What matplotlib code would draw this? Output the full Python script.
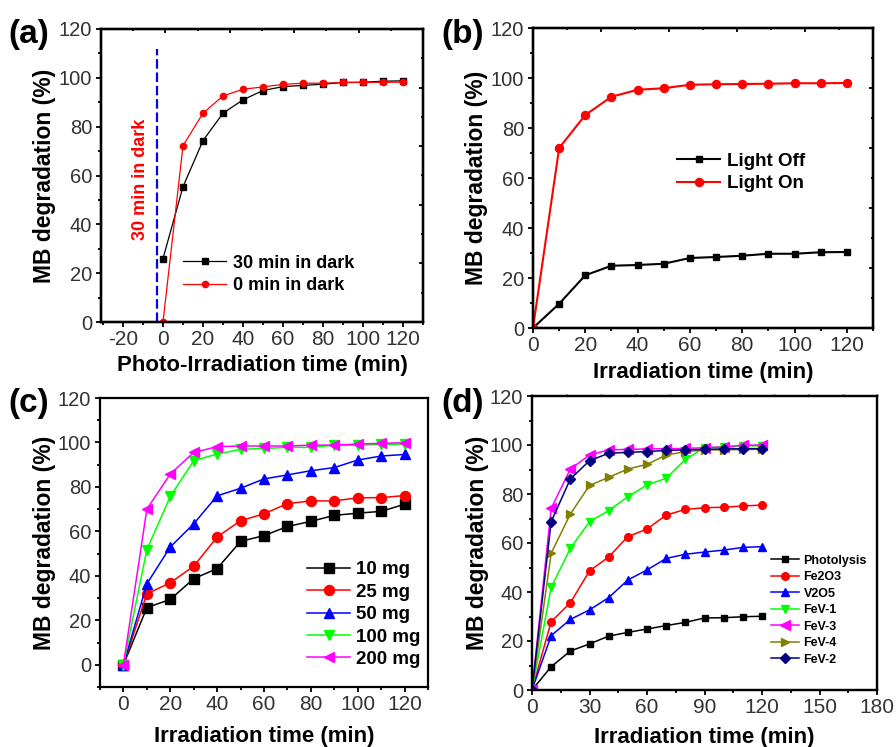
import matplotlib
matplotlib.use("Agg")
import matplotlib.pyplot as plt
from matplotlib.ticker import MultipleLocator

plt.rcParams['font.family'] = ['Liberation Sans', 'DejaVu Sans']
plt.rcParams['axes.unicode_minus'] = False

# irradiation times (min)
t = [0, 10, 20, 30, 40, 50, 60, 70, 80, 90, 100, 110, 120]

# (a) effect of dark adsorption step
dark_30 = [26.0, 55.4, 74.3, 85.5, 91.0, 94.8, 96.4, 96.9, 97.4, 98.1, 98.2, 98.6, 98.8]
dark_0 = [0, 72.2, 85.5, 92.6, 95.3, 96.3, 97.3, 97.8, 97.8, 98.1, 98.1, 98.2, 98.2]
dark_line_x = -3
dark_line_top = 112

# (b) light off / light on
light_off = [0, 9.7, 21.1, 24.9, 25.2, 25.7, 28.0, 28.4, 28.9, 29.7, 29.7, 30.3, 30.4]
light_on = [0, 72.0, 85.2, 92.5, 95.3, 95.9, 97.3, 97.5, 97.6, 97.7, 97.9, 97.9, 98.0]

# (c) catalyst dosage
dose_labels = ['10 mg', '25 mg', '50 mg', '100 mg', '200 mg']
dose_10 = [0, 25.7, 29.4, 38.7, 43.3, 55.5, 58.1, 62.2, 64.5, 67.2, 68.2, 69.0, 72.2]
dose_25 = [0, 31.9, 36.9, 44.3, 57.5, 64.8, 67.9, 72.5, 73.7, 73.7, 75.1, 75.2, 76.1]
dose_50 = [0, 36.4, 53.0, 63.4, 76.0, 79.4, 83.6, 85.4, 87.3, 88.7, 92.1, 93.9, 94.6]
dose_100 = [0, 51.8, 75.7, 91.8, 94.8, 96.9, 97.3, 97.8, 97.8, 98.8, 98.8, 99.1, 99.3]
dose_200 = [0, 70.0, 85.8, 95.5, 98.1, 98.4, 98.4, 98.4, 98.8, 98.8, 99.3, 99.6, 99.9]

# (d) different catalysts
cat_labels = ['Photolysis', 'Fe2O3', 'V2O5', 'FeV-1', 'FeV-3', 'FeV-4', 'FeV-2']
photolysis = [0, 9.5, 15.9, 18.8, 22.0, 23.5, 24.9, 26.3, 27.6, 29.4, 29.5, 29.9, 30.1]
fe2o3 = [0, 27.9, 35.6, 48.6, 54.3, 62.6, 65.7, 71.4, 73.7, 74.4, 74.6, 75.1, 75.5]
v2o5 = [0, 22.2, 28.8, 32.7, 37.7, 44.9, 49.0, 53.7, 55.4, 56.3, 57.1, 58.2, 58.5]
fev_1 = [0, 41.9, 57.8, 68.7, 73.2, 78.9, 83.7, 86.4, 94.1, 98.9, 99.2, 99.6, 99.7]
fev_3 = [0, 74.1, 90.2, 95.9, 98.0, 98.2, 98.4, 98.5, 98.6, 98.9, 99.2, 99.9, 100.0]
fev_4 = [0, 55.8, 71.8, 83.5, 86.8, 90.2, 92.1, 95.9, 97.3, 98.0, 98.0, 98.2, 98.2]
fev_2 = [0, 68.7, 86.1, 93.6, 96.6, 97.0, 97.3, 97.8, 98.0, 98.2, 98.4, 98.5, 98.5]

colors = ['black', '#FF0000', '#0000FF', '#00FF00', '#FF00FF', '#808000', '#000080']
markers = ['s', 'o', '^', 'v', '<', '>', 'D']

YLABEL = 'MB degradation (%)'
TICK_COLOR = '#333333'


def style(ax, xlim, ylim, xmaj, ymaj, xlab, xlab_y, ylab_x):
    ax.set_xlim(*xlim)
    ax.set_ylim(*ylim)
    ax.xaxis.set_major_locator(MultipleLocator(xmaj))
    ax.xaxis.set_minor_locator(MultipleLocator(xmaj / 2))
    ax.yaxis.set_major_locator(MultipleLocator(ymaj))
    ax.yaxis.set_minor_locator(MultipleLocator(ymaj / 2))
    ax.tick_params(which='both', direction='out', top=False, right=False,
                   width=1.3, color='black', labelcolor=TICK_COLOR)
    ax.tick_params(which='major', length=3.3)
    ax.tick_params(which='minor', length=2.2)
    ax.tick_params(axis='x', labelsize=15, pad=2.5)
    ax.tick_params(axis='y', labelsize=14.5, pad=3)
    for s in ax.spines.values():
        s.set_linewidth(1.6)
    ax.set_xlabel(xlab, fontsize=16, fontweight='bold')
    ax.set_ylabel(YLABEL, fontsize=16.5, fontweight='bold')
    ax.xaxis.label.set_verticalalignment('center')
    ax.yaxis.label.set_verticalalignment('center')
    ax.xaxis.set_label_coords(0.5, xlab_y)
    ax.yaxis.set_label_coords(ylab_x, 0.5)


def mirror_ticks(ax, direction='in', length=3.0):
    # top and right frame ticks, evenly spaced over the frame
    top = ax.twiny()
    top.set_xlim(0, 1)
    top.xaxis.set_major_locator(MultipleLocator(0.2))
    top.xaxis.set_minor_locator(MultipleLocator(0.1))
    top.tick_params(which='both', direction=direction, labeltop=False, width=1.3)
    top.tick_params(which='major', length=length)
    top.tick_params(which='minor', length=length * 0.55)
    right = ax.twinx()
    right.set_ylim(0, 1)
    right.yaxis.set_major_locator(MultipleLocator(0.2))
    right.yaxis.set_minor_locator(MultipleLocator(0.1))
    right.tick_params(which='both', direction=direction, labelright=False, width=1.3)
    right.tick_params(which='major', length=length)
    right.tick_params(which='minor', length=length * 0.55)
    for a in (top, right):
        for s in a.spines.values():
            s.set_linewidth(1.6)
    return top, right


fig = plt.figure(figsize=(8.96, 7.47), dpi=100)
W, H = 896, 747


def axes_px(left, top, right, bottom):
    return fig.add_axes([left / W, 1 - bottom / H, (right - left) / W, (bottom - top) / H])


ax_a = axes_px(101, 29, 423, 322)
ax_b = axes_px(533, 28, 873, 328)
ax_c = axes_px(100, 398, 428, 687)
ax_d = axes_px(532, 396, 877, 690)

# ---- (a)
ax_a.plot(t, dark_30, color='black', marker='s', markersize=4.8, lw=0.9,
          label='30 min in dark', zorder=3)
ax_a.plot(t, dark_0, color='#FF0000', marker='o', markersize=4.5, lw=0.9,
          label='0 min in dark', zorder=4)
ax_a.plot([dark_line_x, dark_line_x], [0, dark_line_top], color='#0000FF', lw=1.6,
          dashes=(4.3, 1.7))
ax_a.text(-11.4, 58.5, '30 min in dark', rotation=90, color='#FF0000',
          fontsize=13, fontweight='bold', ha='center', va='center')
style(ax_a, (-31, 130), (0, 120), 20, 20, 'Photo-Irradiation time (min)', -0.150, -0.174)
leg = ax_a.legend(loc='upper left', bbox_to_anchor=(0.255, 0.23), frameon=False,
                  borderpad=0, fontsize=13, handlelength=2.4, handletextpad=0.35,
                  labelspacing=0.3, borderaxespad=0)
for txt in leg.get_texts():
    txt.set_fontweight('bold')
mirror_ticks(ax_a)

# ---- (b)
ax_b.plot(t, light_off, color='black', marker='s', markersize=5, lw=1.5, label='Light Off')
ax_b.plot(t, light_on, color='#FF0000', marker='o', markersize=5.8, lw=1.5, label='Light On')
style(ax_b, (0, 130), (0, 120), 20, 20, 'Irradiation time (min)', -0.147, -0.165)
leg = ax_b.legend(loc='upper left', bbox_to_anchor=(0.424, 0.585), frameon=False,
                  borderpad=0, fontsize=13.5, handlelength=2.3, handletextpad=0.38,
                  labelspacing=0.3, borderaxespad=0)
for txt in leg.get_texts():
    txt.set_fontweight('bold')
mirror_ticks(ax_b)

# ---- (c)
dose_series = [dose_10, dose_25, dose_50, dose_100, dose_200]
dose_sizes = [6.5, 7.2, 7.5, 7.5, 7.5]
for i, ys in enumerate(dose_series):
    ax_c.plot(t, ys, color=colors[i], marker=markers[i], markersize=dose_sizes[i],
              lw=1.1, label=dose_labels[i])
style(ax_c, (-10, 130), (-10, 120), 20, 20, 'Irradiation time (min)', -0.170, -0.168)
ax_c.xaxis.set_major_locator(MultipleLocator(20))
ax_c.set_xticks(range(-10, 131, 10), minor=True)
ax_c.set_yticks(range(-10, 121, 10), minor=True)
leg = ax_c.legend(loc='upper left', bbox_to_anchor=(0.631, 0.435), frameon=False,
                  borderpad=0, fontsize=13.5, handlelength=2.3, handletextpad=0.33,
                  labelspacing=0.28, borderaxespad=0)
for txt in leg.get_texts():
    txt.set_fontweight('bold')

# ---- (d)
cat_series = [photolysis, fe2o3, v2o5, fev_1, fev_3, fev_4, fev_2]
cat_sizes = [5, 5.5, 6, 6, 6.5, 6, 5.5]
for i, ys in enumerate(cat_series):
    ax_d.plot(t, ys, color=colors[i], marker=markers[i], markersize=cat_sizes[i],
              lw=1.1, label=cat_labels[i])
style(ax_d, (0, 180), (0, 120), 30, 20, 'Irradiation time (min)', -0.160, -0.157)
leg = ax_d.legend(loc='upper left', bbox_to_anchor=(0.693, 0.46), frameon=False,
                  borderpad=0, fontsize=9, handlelength=2.25, handletextpad=0.35,
                  labelspacing=0.36, borderaxespad=0)
for txt in leg.get_texts():
    txt.set_fontweight('bold')
top_d = ax_d.twiny()
top_d.set_xlim(0, 1)
top_d.xaxis.set_major_locator(MultipleLocator(0.1))
top_d.tick_params(direction='out', length=1.5, width=1.0, labeltop=False)
for s in top_d.spines.values():
    s.set_linewidth(1.6)

# panel letters
for letter, (px, py) in zip(['(a)', '(b)', '(c)', '(d)'],
                            [(8, 34), (441, 34), (8, 403), (441, 403)]):
    fig.text(px / W, 1 - py / H, letter, fontsize=24, fontweight='bold',
             ha='left', va='center')

fig.savefig('out.png', dpi=100)
